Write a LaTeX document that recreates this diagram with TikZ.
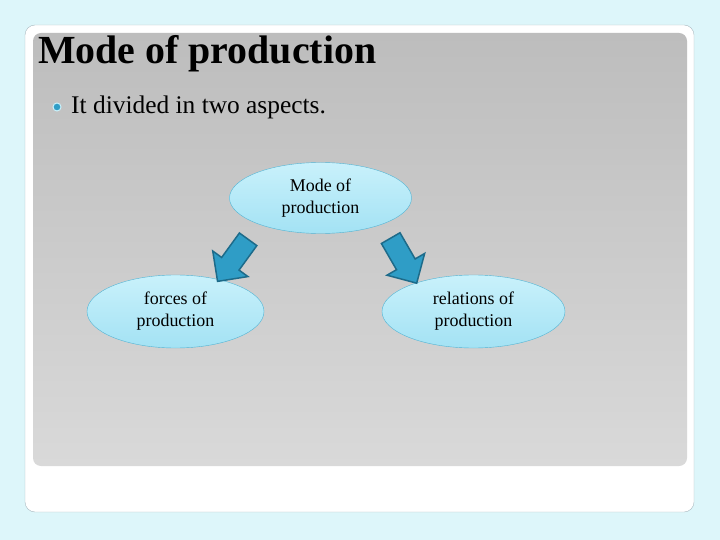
\documentclass[tikz,border=0pt]{standalone}
\usepackage{fontspec}
\setmainfont{Liberation Serif}
\usetikzlibrary{positioning,shapes.geometric,shapes.arrows}
\definecolor{bgcyan}{HTML}{DDF6FA}
\definecolor{framegray}{HTML}{A9B9C0}
\definecolor{paneltop}{HTML}{BDBDBD}
\definecolor{panelbot}{HTML}{D9D9D9}
\definecolor{elltop}{HTML}{C9F1FB}
\definecolor{ellbot}{HTML}{A3E2F4}
\definecolor{elledge}{HTML}{52B4D4}
\definecolor{arrfill}{HTML}{2F9DC6}
\definecolor{arredge}{HTML}{1D6B8A}
\tikzstyle{topic} = [ellipse, draw=elledge, top color=elltop, bottom color=ellbot, inner sep=0pt, align=center, font=\fontsize{18}{22}\selectfont]
\tikzstyle{blockarrow} = [single arrow, draw=arredge, line width=1.5bp, fill=arrfill, inner sep=10bp, minimum height=52bp, single arrow head extend=11bp]

\begin{document}
\begin{tikzpicture}[x=1bp, y=-1bp]

    \useasboundingbox (0,0) rectangle (720,540);
    \fill[bgcyan] (0,0) rectangle (720,540);
    \draw[framegray, fill=white, rounded corners=10bp] (25,25) rectangle (694,512);
    \shade[top color=paneltop, bottom color=panelbot, rounded corners=8bp] (33,33) rectangle (687,466);

    \node[anchor=base west, inner sep=0pt, font=\fontsize{40}{44}\selectfont\bfseries] (title) at (38,64) {Mode of production};
    \node[circle, fill=arrfill, draw=elltop, line width=1bp, minimum size=8bp, inner sep=0pt] (bullet) at (57,107) {};
    \node[inner sep=0pt, font=\fontsize{25.5}{30}\selectfont, right=14bp of bullet.center, anchor=west] (aspects) {It divided in two aspects.};

    \node[topic, minimum width=182bp, minimum height=71bp] (mode) at (320.5,198) {Mode of\\production};
    \node[topic, minimum width=177bp, minimum height=73bp] (forces) at (175.5,311.5) {forces of\\production};
    \node[topic, minimum width=183bp, minimum height=73bp] (relations) at (473.5,311.5) {relations of\\production};

    \node[blockarrow, rotate=234] (arrL) at (236,256) {};
    \node[blockarrow, rotate=300] (arrR) at (401,256) {};

\end{tikzpicture}
\end{document}
